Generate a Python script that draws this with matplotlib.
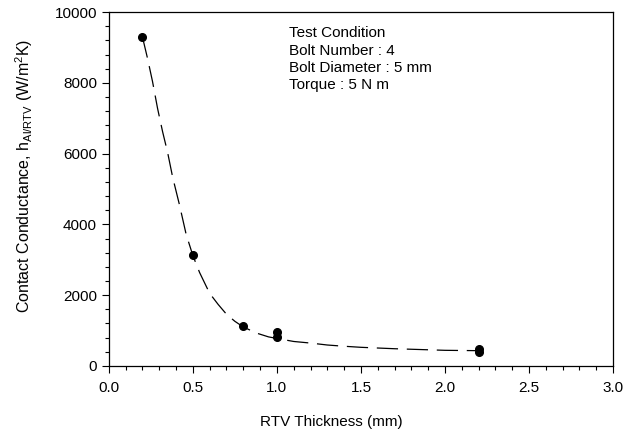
import matplotlib
matplotlib.use('Agg')
import matplotlib.pyplot as plt
from matplotlib.ticker import MultipleLocator

plt.rcParams['font.family'] = ['Liberation Sans', 'DejaVu Sans']
plt.rcParams['mathtext.fontset'] = 'custom'
plt.rcParams['mathtext.rm'] = 'Liberation Sans'

# measured points
thickness = [0.2, 0.5, 0.8, 1.0, 1.0, 2.2, 2.2]
conductance = [9300, 3130, 1130, 960, 820, 470, 400]

# dashed fit curve
fit_x = [0.2, 0.23, 0.26, 0.29, 0.32, 0.35, 0.38, 0.42, 0.46, 0.5, 0.54,
         0.6, 0.65, 0.7, 0.75, 0.8, 0.88, 0.95, 1.0, 1.1, 1.2, 1.3, 1.4,
         1.5, 1.6, 1.7, 1.8, 1.9, 2.0, 2.1, 2.2]
fit_y = [9300, 8700, 8040, 7280, 6620, 6030, 5330, 4560, 3720, 3120, 2640,
         2050, 1740, 1460, 1260, 1100, 925, 820, 775, 690, 645, 590, 555,
         525, 505, 485, 470, 455, 440, 435, 430]

condition_lines = ['Test Condition', 'Bolt Number : 4',
                   'Bolt Diameter : 5 mm', 'Torque : 5 N m']

fig = plt.figure(figsize=(6.4, 4.33), dpi=100)
ax = fig.add_axes([0.170, 0.155, 0.788, 0.817])

ax.plot(fit_x, fit_y, color='black', lw=0.9, dashes=(17, 7))
ax.plot(thickness, conductance, 'o', color='black', ms=5.5)

ax.set_xlim(0, 3.0)
ax.set_ylim(0, 10000)
ax.xaxis.set_major_locator(MultipleLocator(0.5))
ax.xaxis.set_minor_locator(MultipleLocator(0.1))
ax.yaxis.set_major_locator(MultipleLocator(2000))
ax.yaxis.set_minor_locator(MultipleLocator(400))
ax.xaxis.set_major_formatter(plt.FuncFormatter(lambda v, p: '%.1f' % v))
ax.tick_params(which='major', direction='out', length=5, width=0.8, labelsize=11)
ax.tick_params(which='minor', direction='out', length=3, width=0.8)
ax.tick_params(axis='x', pad=6)

for s in ax.spines.values():
    s.set_linewidth(0.9)

ax.set_xlabel('RTV Thickness (mm)', fontsize=11)
ax.xaxis.set_label_coords(0.442, -0.138)
ax.set_ylabel(r'Contact Conductance, h$_{\mathregular{Al/RTV}}$ (W/m$^{\mathregular{2}}$K)',
              fontsize=11.5)
ax.yaxis.set_label_coords(-0.147, 0.537)

ax.text(0.357, 0.96, '\n'.join(condition_lines), transform=ax.transAxes,
        fontsize=11, va='top', ha='left', linespacing=1.3)

fig.savefig('out.png', dpi=100)
